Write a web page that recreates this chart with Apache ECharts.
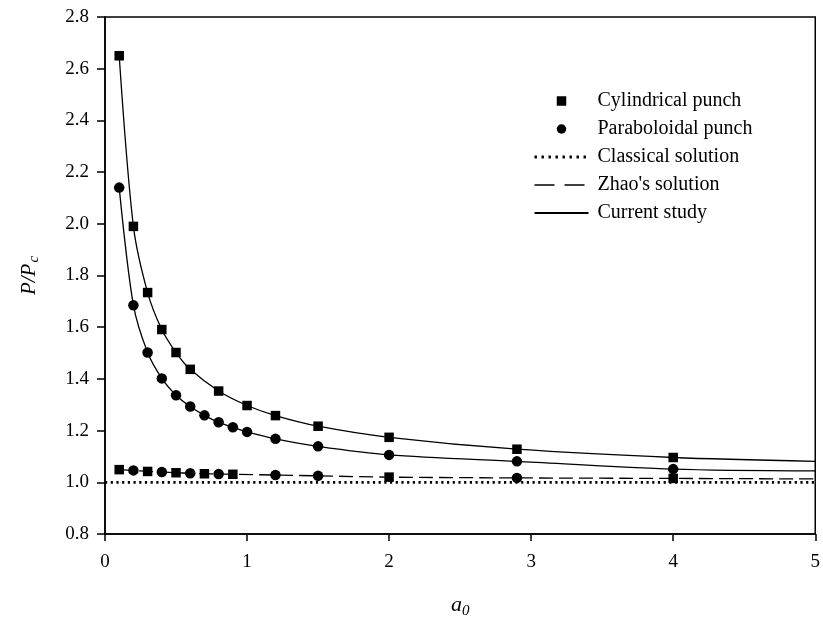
<!DOCTYPE html>
<html>
<head>
<meta charset="utf-8">
<script src="https://cdn.jsdelivr.net/npm/echarts@6/dist/echarts.min.js"></script>
<style>
  html, body { margin: 0; padding: 0; background: #fff; }
  #chart { width: 823px; height: 627px; }
</style>
</head>
<body>
<div id="chart"></div>
<script>
// Current study curve, cylindrical punch (markers at every point but the last)
var cylX = [0.1, 0.2, 0.3, 0.4, 0.5, 0.6, 0.8, 1.0, 1.2, 1.5, 2.0, 2.9, 4.0, 5.0];
var cylY = [2.65, 1.99, 1.734, 1.591, 1.502, 1.437, 1.353, 1.297, 1.258, 1.217, 1.174, 1.128, 1.096, 1.081];

// Current study curve, paraboloidal punch
var parX = [0.1, 0.2, 0.3, 0.4, 0.5, 0.6, 0.7, 0.8, 0.9, 1.0, 1.2, 1.5, 2.0, 2.9, 4.0, 5.0];
var parY = [2.14, 1.685, 1.502, 1.402, 1.337, 1.293, 1.259, 1.232, 1.213, 1.195, 1.168, 1.139, 1.106, 1.081, 1.051, 1.044];

// Zhao's solution
var zhaoX = [0.1, 0.2, 0.3, 0.4, 0.5, 0.6, 0.7, 0.8, 0.9, 1.2, 1.5, 2.0, 2.9, 4.0, 5.0];
var zhaoY = [1.049, 1.046, 1.042, 1.040, 1.037, 1.035, 1.033, 1.032, 1.031, 1.028, 1.025, 1.020, 1.017, 1.015, 1.013];

// Markers lying on Zhao's curve
var cylZhaoX = [0.1, 0.3, 0.5, 0.7, 0.9, 2.0, 4.0];
var cylZhaoY = [1.049, 1.042, 1.037, 1.033, 1.031, 1.020, 1.015];
var parZhaoX = [0.2, 0.4, 0.6, 0.8, 1.2, 1.5, 2.9];
var parZhaoY = [1.046, 1.040, 1.035, 1.032, 1.028, 1.025, 1.017];

// Classical solution
var classicX = [0, 5];
var classicY = [1.0, 1.0];

// Axis ticks
var xTicks = { min: 0, max: 5, step: 1 };
var yTicks = { min: 0.8, max: 2.8, step: 0.2 };

var legendNames = ['Cylindrical punch', 'Paraboloidal punch', 'Classical solution', "Zhao's solution", 'Current study'];
var lineLegendNames = ['Classical solution', "Zhao's solution", 'Current study'];

function pairs(xs, ys, n) {
  var out = [];
  var len = n == null ? xs.length : n;
  for (var i = 0; i < len; i++) out.push([xs[i], ys[i]]);
  return out;
}

var serif = '"Liberation Serif", "Times New Roman", serif';
var chart = echarts.init(document.getElementById('chart'), null, { renderer: 'canvas' });

var lineW = 1.3;
var hidden = { color: 'rgba(0,0,0,0)', borderColor: 'rgba(0,0,0,0)', borderWidth: 0, opacity: 0 };

// Line entries show only the stroke in the legend; the square keeps its aspect
var legendData = legendNames.map(function (n) {
  if (n === "Zhao's solution") {
    return { name: n, itemStyle: hidden, lineStyle: { color: '#000', width: lineW, type: [20, 10] } };
  }
  if (n === 'Classical solution') {
    return { name: n, itemStyle: hidden, lineStyle: { color: '#000', width: 3, type: [2.4, 4.6] } };
  }
  if (lineLegendNames.indexOf(n) >= 0) {
    return { name: n, itemStyle: hidden };
  }
  if (n === 'Cylindrical punch') {
    return { name: n, icon: 'path://M0,0L10,0L10,10L0,10Z' };
  }
  return { name: n };
});

chart.setOption({
  animation: false,
  backgroundColor: '#fff',
  textStyle: { fontFamily: serif, color: '#000' },
  grid: {
    left: 105, right: 7, top: 17, bottom: 93,
    show: true, borderColor: '#000', borderWidth: 1.5, backgroundColor: 'transparent'
  },
  legend: {
    orient: 'vertical',
    left: 528,
    top: 86,
    itemWidth: 54,
    itemHeight: 9.5,
    itemGap: 8,
    symbolKeepAspect: true,
    selectedMode: false,
    data: legendData,
    textStyle: { fontFamily: serif, fontSize: 20, color: '#000', padding: [0, 0, 0, 4] }
  },
  xAxis: {
    type: 'value',
    min: xTicks.min, max: xTicks.max, interval: xTicks.step,
    name: '{i|a}{s|0}',
    nameLocation: 'middle',
    nameGap: 58,
    nameTextStyle: {
      rich: {
        i: { fontFamily: serif, fontStyle: 'italic', fontSize: 22, color: '#000' },
        s: { fontFamily: serif, fontStyle: 'italic', fontSize: 15, color: '#000', padding: [12, 0, 0, 0] }
      }
    },
    axisLine: { show: true, onZero: false, lineStyle: { color: '#000', width: 1.5 } },
    axisTick: { show: true, inside: false, length: 7, lineStyle: { color: '#000', width: 1.5 } },
    axisLabel: { margin: 19, fontFamily: serif, fontSize: 19, color: '#000' },
    splitLine: { show: false }
  },
  yAxis: {
    type: 'value',
    min: yTicks.min, max: yTicks.max, interval: yTicks.step,
    name: '{i|P/P}{s|c}',
    nameLocation: 'middle',
    nameRotate: 90,
    nameGap: 63,
    nameTextStyle: {
      rich: {
        i: { fontFamily: serif, fontStyle: 'italic', fontSize: 21, color: '#000' },
        s: { fontFamily: serif, fontStyle: 'italic', fontSize: 15, color: '#000', padding: [10, 0, 0, 1] }
      }
    },
    axisLine: { show: true, onZero: false, lineStyle: { color: '#000', width: 1.5 } },
    axisTick: { show: true, inside: false, length: 8, lineStyle: { color: '#000', width: 1.5 } },
    axisLabel: {
      margin: 16, fontFamily: serif, fontSize: 19, color: '#000',
      formatter: function (v) { return v.toFixed(1); }
    },
    splitLine: { show: false }
  },
  series: [
    {
      name: 'Classical solution', type: 'line', data: pairs(classicX, classicY),
      symbol: 'none', z: 2,
      lineStyle: { color: '#000', width: 2.8, type: [2.2, 3.5], cap: 'butt' },
      itemStyle: { color: '#000' }
    },
    {
      name: "Zhao's solution", type: 'line', data: pairs(zhaoX, zhaoY),
      symbol: 'none', z: 2, smooth: 0.3,
      lineStyle: { color: '#000', width: lineW, type: [14, 6] },
      itemStyle: { color: '#000' }
    },
    {
      name: 'Current study', type: 'line', data: pairs(cylX, cylY),
      symbol: 'none', z: 2, smooth: 0.3,
      lineStyle: { color: '#000', width: lineW },
      itemStyle: { color: '#000' }
    },
    {
      name: 'Current study', type: 'line', data: pairs(parX, parY),
      symbol: 'none', z: 2, smooth: 0.3,
      lineStyle: { color: '#000', width: lineW },
      itemStyle: { color: '#000' }
    },
    {
      name: 'Cylindrical punch', type: 'scatter', symbol: 'rect', symbolSize: 9.5, z: 3,
      data: pairs(cylX, cylY, cylX.length - 1).concat(pairs(cylZhaoX, cylZhaoY)),
      itemStyle: { color: '#000', opacity: 1 }
    },
    {
      name: 'Paraboloidal punch', type: 'scatter', symbol: 'circle', symbolSize: 10.5, z: 3,
      data: pairs(parX, parY, parX.length - 1).concat(pairs(parZhaoX, parZhaoY)),
      itemStyle: { color: '#000', opacity: 1 }
    }
  ]
});
</script>
</body>
</html>
